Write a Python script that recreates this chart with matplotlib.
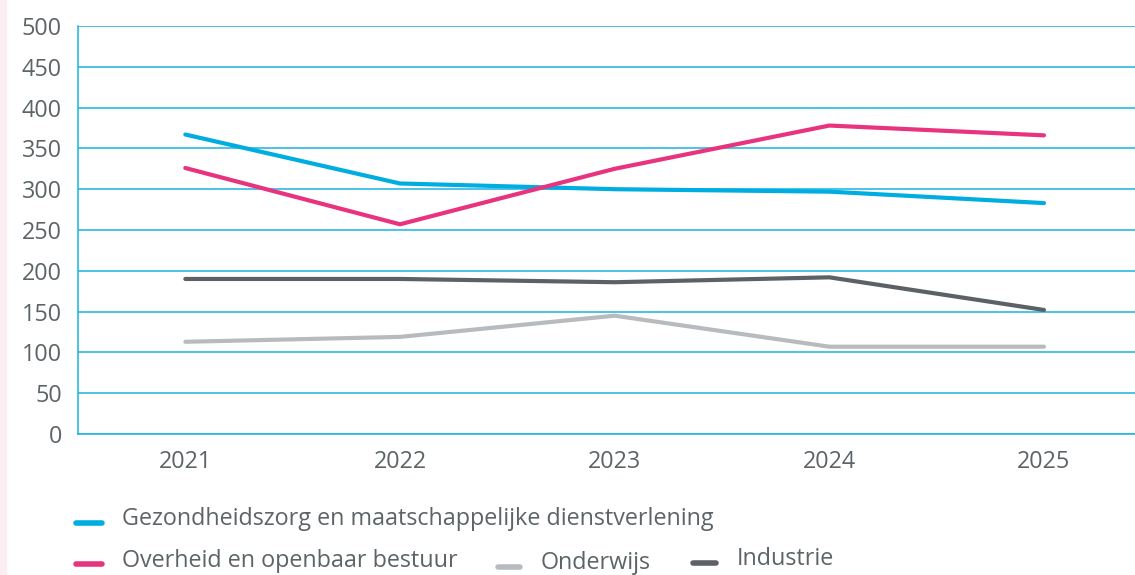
import matplotlib.pyplot as plt
from matplotlib.lines import Line2D
from matplotlib.patches import Rectangle

plt.rcParams['font.family'] = ['Open Sans', 'DejaVu Sans']

years = ['2021', '2022', '2023', '2024', '2025']
gezondheidszorg = [367, 307, 300, 297, 283]
overheid = [326, 257, 325, 378, 366]
onderwijs = [113, 119, 145, 107, 107]
industrie = [190, 190, 186, 192, 152]

labels = ['Gezondheidszorg en maatschappelijke dienstverlening',
          'Overheid en openbaar bestuur', 'Onderwijs', 'Industrie']
colors = ['#00ade1', '#e8337f', '#b8bbbe', '#5c6166']
grid_col = '#19b3e0'
text_col = '#5d6468'

fig = plt.figure(figsize=(11.35, 5.75), dpi=100)
fig.patches.append(Rectangle((0, 0), 6 / 1135, 1, transform=fig.transFigure,
                             color='#fbeef1', zorder=0))

ax = fig.add_axes([78 / 1135, 1 - 434 / 575, 1 - 78 / 1135, 408 / 575])
x = list(range(len(years)))
series = [gezondheidszorg, overheid, onderwijs, industrie]
for vals, c in zip(series, colors):
    ax.plot(x, vals, color=c, lw=3.0, solid_capstyle='round', zorder=3)

ax.set_xlim(-0.5, 4.424)
ax.set_ylim(0, 500)
ax.set_yticks(range(0, 501, 50))
ax.set_xticks(x)
ax.set_xticklabels(years)
ax.grid(axis='y', color=grid_col, lw=1.1)
ax.set_axisbelow(True)
for s in ['top', 'right']:
    ax.spines[s].set_visible(False)
for s in ['left', 'bottom']:
    ax.spines[s].set_color(grid_col)
    ax.spines[s].set_linewidth(1.1)
ax.tick_params(length=0, labelsize=16.8, colors=text_col)
ax.tick_params(axis='y', pad=11.5)
ax.tick_params(axis='x', pad=11.5)

# legend drawn by hand to match the layout
def legend_item(x0, x1, y, xt, yt, c, txt):
    fig.add_artist(Line2D([x0 / 1135, x1 / 1135], [1 - y / 575, 1 - y / 575],
                          color=c, lw=4, solid_capstyle='round'))
    fig.text(xt / 1135, 1 - yt / 575, txt, color=text_col, fontsize=16.8,
             va='center', ha='left')

legend_item(76, 102, 523, 122, 519, colors[0], labels[0])
legend_item(76, 102, 564, 122, 561, colors[1], labels[1])
legend_item(498, 520, 567, 541, 563, colors[2], labels[2])
legend_item(693, 716, 563, 737, 559, colors[3], labels[3])

fig.savefig('out.png', dpi=100)
